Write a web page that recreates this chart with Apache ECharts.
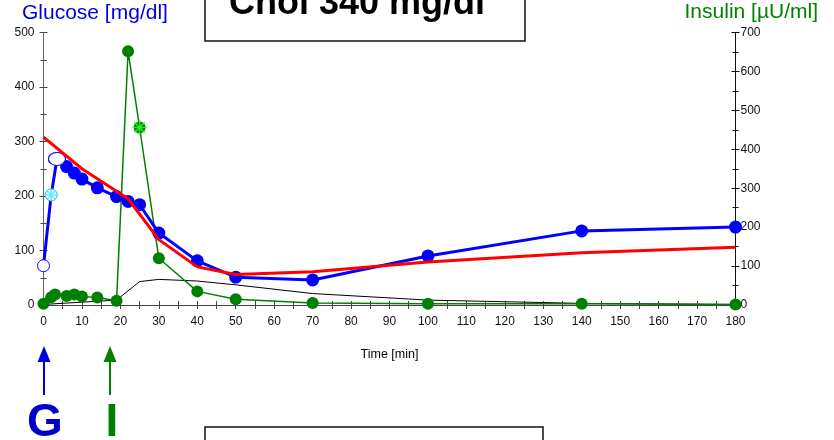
<!DOCTYPE html>
<html><head><meta charset="utf-8">
<script src="https://cdn.jsdelivr.net/npm/echarts/dist/echarts.min.js"></script>
<style>html,body{margin:0;padding:0;background:#fff}#c{width:834px;height:440px}</style>
</head><body><div id="c"></div>
<script>
// ---- data ----
const glucoseTime = [0, 2, 3.5, 6, 8, 10, 14, 19, 22, 25, 30, 40, 50, 70, 100, 140, 180];
const glucoseVal  = [72, 202, 268, 254, 242, 231, 215, 199, 190, 184, 132, 81, 51, 46, 90, 136, 143];
const insulinTime = [0, 2, 3, 6, 8, 10, 14, 19, 22, 25, 30, 40, 50, 70, 100, 140, 180];
const insulinVal  = [3, 20, 27, 23, 27, 22, 19, 11, 652, 456, 120, 35, 15, 5, 3, 3, 1];
const glucoseModelTime = [0, 10, 22, 30, 40, 50, 70, 100, 140, 180];
const glucoseModelVal  = [308, 250, 195, 120, 70, 56, 61, 79, 96, 106];
const blackModelTime = [0, 19, 25, 30, 40, 50, 70, 100, 140, 180];
const blackModelVal  = [1, 9, 43, 47, 44, 37, 21, 9, 3, 1];
const openIdx = [0];       // open-circle glucose points
const starIdx = [1];       // starburst glucose point
const ovalIdx = [2];       // open oval glucose point
const insulinStarIdx = [9];
const titleText = 'Chol 340 mg/dl';
const glucoseLabel = 'Glucose [mg/dl]';
const insulinLabel = 'Insulin [\u00b5U/ml]';
const xName = 'Time [min]';

const FONT = 'Liberation Sans, Arial, sans-serif';
const chart = echarts.init(document.getElementById('c'), null, {renderer: 'canvas'});

const blueData = glucoseTime.map((t, i) => {
  const it = {value: [t, glucoseVal[i]]};
  if (openIdx.includes(i)) { it.symbolSize = 12; it.itemStyle = {color: '#fff', borderColor: '#0000ff', borderWidth: 1}; }
  if (starIdx.includes(i)) { it.symbolSize = 12; it.itemStyle = {color: '#fff', borderColor: '#3aa0ff', borderWidth: 1}; }
  if (ovalIdx.includes(i)) { it.symbolSize = [17, 13]; it.itemStyle = {color: '#fff', borderColor: '#0000ff', borderWidth: 1}; }
  return it;
});
const starPath = 'path://M0,-10L0,10M-10,0L10,0M-7,-7L7,7M-7,7L7,-7';

const xBase = {type: 'value', min: 0, max: 180, interval: 10, gridIndex: 0, position: 'bottom', offset: 0,
  splitLine: {show: false}};
const yLBase = {type: 'value', min: 0, max: 500, interval: 100, position: 'left', offset: 0, splitLine: {show: false}};
const yRBase = {type: 'value', min: 0, max: 700, interval: 100, position: 'right', offset: 0, splitLine: {show: false}};

chart.setOption({
  animation: false,
  grid: {left: 43.5, right: 98.5, top: 32.5, bottom: 135},
  xAxis: [
    Object.assign({}, xBase, {
      name: xName, nameLocation: 'middle', nameGap: 43,
      nameTextStyle: {fontFamily: FONT, fontSize: 12.5, color: '#000'},
      axisLine: {show: true, onZero: false, lineStyle: {color: '#444', width: 1}},
      axisTick: {show: true, inside: false, length: 4, lineStyle: {color: '#444'}},
      minorTick: {show: true, splitNumber: 2, length: 4, lineStyle: {color: '#444'}},
      axisLabel: {fontFamily: FONT, fontSize: 12, color: '#111', margin: 11}
    }),
    Object.assign({}, xBase, {
      axisLine: {show: false, onZero: false}, axisLabel: {show: false},
      axisTick: {show: true, inside: true, length: 4, lineStyle: {color: '#444'}},
      minorTick: {show: true, splitNumber: 2, length: 4, lineStyle: {color: '#444'}}
    })
  ],
  yAxis: [
    Object.assign({}, yLBase, {
      axisLine: {show: true, onZero: false, lineStyle: {color: '#666', width: 1}},
      axisTick: {show: true, inside: false, length: 4, lineStyle: {color: '#444'}},
      minorTick: {show: true, splitNumber: 2, length: 3, lineStyle: {color: '#444'}},
      axisLabel: {fontFamily: FONT, fontSize: 12, color: '#111', margin: 9}
    }),
    Object.assign({}, yRBase, {
      axisLine: {show: true, onZero: false, lineStyle: {color: '#111', width: 1}},
      axisTick: {show: true, inside: false, length: 4, lineStyle: {color: '#111'}},
      minorTick: {show: true, splitNumber: 2, length: 3, lineStyle: {color: '#111'}},
      axisLabel: {fontFamily: FONT, fontSize: 12, color: '#111', margin: 5}
    }),
    Object.assign({}, yLBase, {
      axisLine: {show: false, onZero: false}, axisLabel: {show: false},
      axisTick: {show: true, inside: true, length: 4, lineStyle: {color: '#444'}},
      minorTick: {show: true, splitNumber: 2, length: 3, lineStyle: {color: '#444'}}
    }),
    Object.assign({}, yRBase, {
      axisLine: {show: false, onZero: false}, axisLabel: {show: false},
      axisTick: {show: true, inside: true, length: 4, lineStyle: {color: '#111'}},
      minorTick: {show: true, splitNumber: 2, length: 3, lineStyle: {color: '#111'}}
    })
  ],
  series: [
    {type: 'line', xAxisIndex: 0, yAxisIndex: 0, z: 1, showSymbol: false, symbol: 'none',
      lineStyle: {color: '#000', width: 1},
      data: blackModelTime.map((t, i) => [t, blackModelVal[i]])},
    {type: 'line', xAxisIndex: 0, yAxisIndex: 1, z: 2, symbol: 'circle', symbolSize: 12,
      itemStyle: {color: '#008000'}, lineStyle: {color: '#008000', width: 1.5},
      data: insulinTime.map((t, i) => [t, insulinVal[i]])},
    {type: 'scatter', xAxisIndex: 0, yAxisIndex: 1, z: 3, symbol: starPath, symbolSize: 15,
      itemStyle: {color: 'rgba(0,0,0,0)', borderColor: '#33ff33', borderWidth: 1.5},
      data: insulinStarIdx.map(i => [insulinTime[i], insulinVal[i]])},
    {type: 'line', xAxisIndex: 0, yAxisIndex: 0, z: 4, symbol: 'circle', symbolSize: 13,
      itemStyle: {color: '#0000ff'}, lineStyle: {color: '#0000ff', width: 3},
      data: blueData},
    {type: 'scatter', xAxisIndex: 0, yAxisIndex: 0, z: 5, symbol: starPath, symbolSize: 13,
      itemStyle: {color: 'rgba(0,0,0,0)', borderColor: '#40e8ff', borderWidth: 1.5},
      data: starIdx.map(i => [glucoseTime[i], glucoseVal[i]])},
    {type: 'scatter', xAxisIndex: 0, yAxisIndex: 0, z: 5, symbol: 'circle', symbolSize: [17, 13],
      itemStyle: {color: '#fff', borderColor: '#0000ff', borderWidth: 1},
      data: ovalIdx.map(i => [glucoseTime[i], glucoseVal[i]])},
    {type: 'line', xAxisIndex: 0, yAxisIndex: 0, z: 6, showSymbol: false, symbol: 'none',
      lineStyle: {color: '#ff0000', width: 3},
      data: glucoseModelTime.map((t, i) => [t, glucoseModelVal[i]])}
  ],
  graphic: [
    {type: 'text', left: 22, top: 3, style: {text: glucoseLabel, font: '21px ' + FONT, fill: '#0000e6'}},
    {type: 'text', right: 16, top: 2, style: {text: insulinLabel, font: '21px ' + FONT, fill: '#008000'}},
    {type: 'rect', shape: {x: 205, y: -10, width: 320, height: 51},
      style: {fill: '#fff', stroke: '#111', lineWidth: 1.5}, z: 10},
    {type: 'text', z: 11, style: {text: titleText, x: 357, y: 4, font: 'bold 36px ' + FONT, fill: '#000',
      textAlign: 'center', textVerticalAlign: 'middle'}},
    {type: 'rect', shape: {x: 205, y: 427, width: 338, height: 30},
      style: {fill: '#fff', stroke: '#111', lineWidth: 1.5}, z: 10},
    {type: 'line', shape: {x1: 44, y1: 395, x2: 44, y2: 358}, style: {stroke: '#0000dd', lineWidth: 2}},
    {type: 'polygon', shape: {points: [[44, 346], [37.5, 362], [50.5, 362]]}, style: {fill: '#0000dd'}},
    {type: 'line', shape: {x1: 110, y1: 395, x2: 110, y2: 358}, style: {stroke: '#008000', lineWidth: 2}},
    {type: 'polygon', shape: {points: [[110, 346], [103.5, 362], [116.5, 362]]}, style: {fill: '#008000'}},
    {type: 'text', style: {text: 'G', x: 45, y: 423, font: 'bold 46px ' + FONT, fill: '#0000cc',
      textAlign: 'center', textVerticalAlign: 'middle'}},
    {type: 'text', style: {text: 'I', x: 112, y: 423, font: 'bold 46px ' + FONT, fill: '#008000',
      textAlign: 'center', textVerticalAlign: 'middle'}}
  ]
});
</script>
</body></html>
